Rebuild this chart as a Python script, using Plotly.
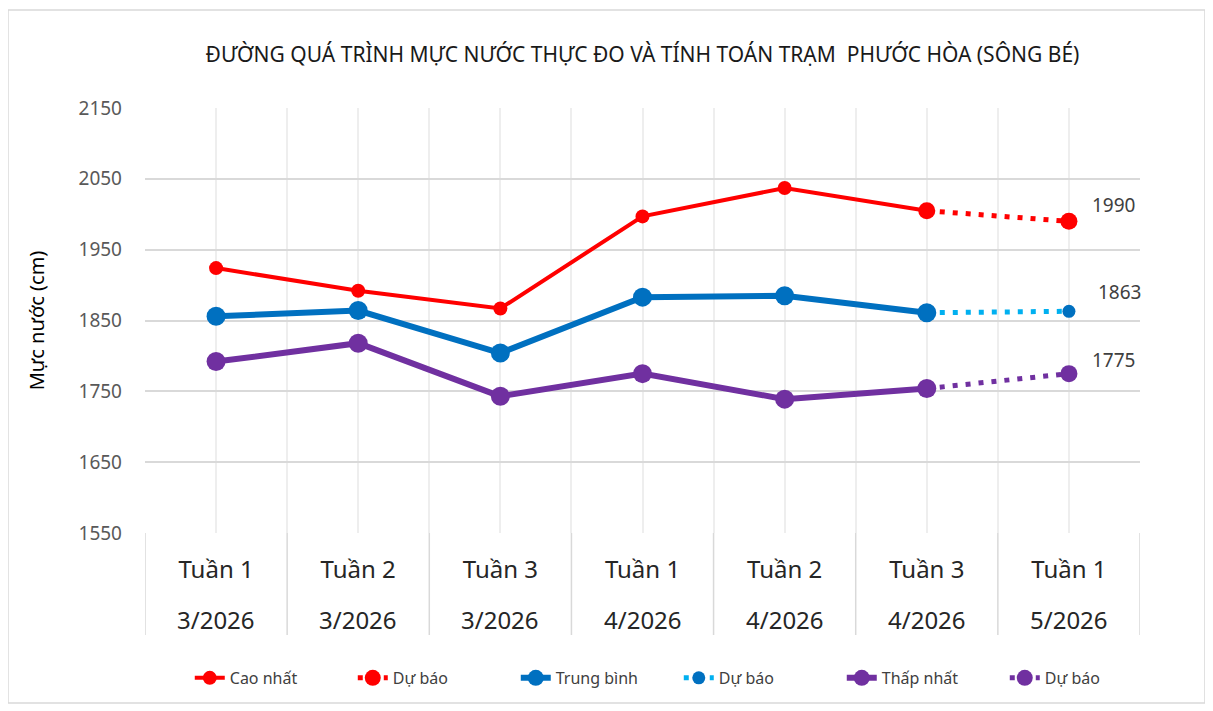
import plotly.graph_objects as go

weeks = ["Tuần 1", "Tuần 2", "Tuần 3", "Tuần 1", "Tuần 2", "Tuần 3", "Tuần 1"]
months = ["3/2026", "3/2026", "3/2026", "4/2026", "4/2026", "4/2026", "5/2026"]

cao_nhat = [1924, 1892, 1867, 1997, 2037, 2005]
trung_binh = [1856, 1864, 1804, 1883, 1885, 1861]
thap_nhat = [1792, 1818, 1743, 1775, 1739, 1754]

du_bao_cao = 1990
du_bao_tb = 1863
du_bao_thap = 1775

y_ticks = [1550, 1650, 1750, 1850, 1950, 2050, 2150]

n = len(weeks)
xs = list(range(n))
obs_x = xs[:len(cao_nhat)]
fc_x = [obs_x[-1], xs[-1]]

RED = "#FF0000"
BLUE = "#0070C0"
LBLUE = "#00B0F0"
PURPLE = "#7030A0"

fig = go.Figure()

fig.add_trace(go.Scatter(x=obs_x, y=cao_nhat, mode="lines+markers", name="Cao nhất",
                         line=dict(color=RED, width=4), marker=dict(color=RED, size=14)))
fig.add_trace(go.Scatter(x=fc_x, y=[cao_nhat[-1], du_bao_cao], mode="lines+markers", name="Dự báo",
                         line=dict(color=RED, width=5, dash="5px,8px"), marker=dict(color=RED, size=17)))
fig.add_trace(go.Scatter(x=obs_x, y=trung_binh, mode="lines+markers", name="Trung bình",
                         line=dict(color=BLUE, width=6), marker=dict(color=BLUE, size=19)))
fig.add_trace(go.Scatter(x=fc_x, y=[trung_binh[-1], du_bao_tb], mode="lines+markers", name="Dự báo",
                         line=dict(color=LBLUE, width=5, dash="5px,8px"), marker=dict(color=BLUE, size=13)))
fig.add_trace(go.Scatter(x=obs_x, y=thap_nhat, mode="lines+markers", name="Thấp nhất",
                         line=dict(color=PURPLE, width=6), marker=dict(color=PURPLE, size=19)))
fig.add_trace(go.Scatter(x=fc_x, y=[thap_nhat[-1], du_bao_thap], mode="lines+markers", name="Dự báo",
                         line=dict(color=PURPLE, width=5, dash="5px,8px"), marker=dict(color=PURPLE, size=17)))

# data labels for forecasts
for val, xsft, ysft in [(du_bao_cao, 45, 16), (du_bao_tb, 51, 19), (du_bao_thap, 45, 14)]:
    fig.add_annotation(x=xs[-1], y=val, text=str(val), showarrow=False, xshift=xsft, yshift=ysft,
                       font=dict(size=19, color="#404040"))

# second row of category labels (months)
for i, m in zip(xs, months):
    fig.add_annotation(x=i, y=-0.2047, xref="x", yref="paper", text=m, showarrow=False,
                       yanchor="middle", font=dict(size=24, color="#262626"))

shapes = []
# category dividers below the axis
for i in range(n + 1):
    shapes.append(dict(type="line", xref="x", yref="paper", x0=i - 0.5, x1=i - 0.5, y0=0, y1=-0.24,
                       line=dict(color="#D9D9D9", width=1.5), layer="below"))
# outer border
shapes.append(dict(type="rect", xref="paper", yref="paper", x0=-0.1377, x1=1.0653, y0=-0.4, y1=1.2306,
                   line=dict(color="#D9D9D9", width=1.5), layer="below"))

fig.update_layout(
    width=1213, height=711,
    margin=dict(l=137, r=81, t=100, b=186),
    paper_bgcolor="white", plot_bgcolor="white",
    font=dict(family="Noto Sans", color="#404040"),
    title=dict(text="ĐƯỜNG QUÁ TRÌNH MỰC NƯỚC THỰC ĐO VÀ TÍNH TOÁN TRẠM&nbsp; PHƯỚC HÒA (SÔNG BÉ)",
               x=0.5, xref="paper", xanchor="center", y=1 - 47 / 711, yanchor="middle",
               font=dict(size=21, color="#1a1a1a")),
    xaxis=dict(range=[-0.5, n - 0.5], tickmode="array", tickvals=xs, ticktext=weeks,
               showgrid=True, gridcolor="#EEEEEE", gridwidth=1.5, zeroline=False, showline=False,
               ticks="", ticklabelstandoff=20, tickfont=dict(size=24, color="#262626"),
               minor=dict(tickmode="array", tickvals=[i - 0.5 for i in range(n + 1)],
                          showgrid=True, gridcolor="#EEEEEE", gridwidth=1.5, ticks="")),
    yaxis=dict(range=[y_ticks[0], y_ticks[-1]], tickmode="array", tickvals=y_ticks,
               showgrid=True, gridcolor="#D9D9D9", gridwidth=1.5, zeroline=False, showline=False,
               ticks="", ticklabelstandoff=22, tickfont=dict(size=19, color="#595959"),
               title=dict(text="Mực nước (cm)", font=dict(size=20, color="#000000"), standoff=28)),
    legend=dict(orientation="h", x=0.045, xanchor="left", y=-0.341, yanchor="middle",
                font=dict(size=16, color="#404040"), entrywidth=118, entrywidthmode="pixels",
                bgcolor="rgba(0,0,0,0)"),
    shapes=shapes,
)

fig.write_html("out.html")
